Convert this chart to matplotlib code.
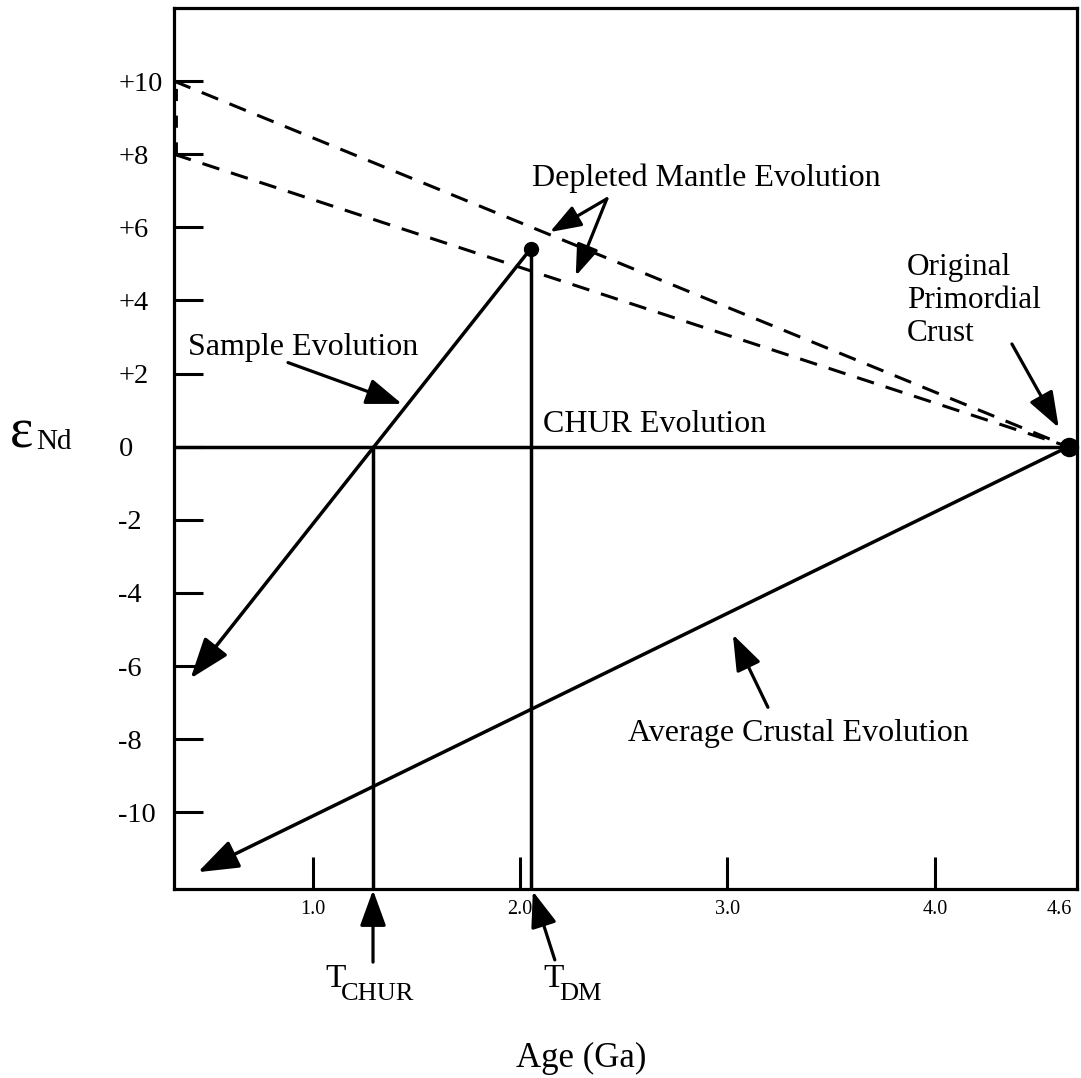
import matplotlib
matplotlib.use("Agg")
import matplotlib.pyplot as plt

plt.rcParams['font.family'] = ['Liberation Serif', 'DejaVu Serif']

# ---------------- data ----------------
x_limits = (0.33, 4.686)
y_limits = (-12.1, 12.0)
x_ticks = [1.0, 2.0, 3.0, 4.0, 4.6]
x_tick_labels = ["1.0", "2.0", "3.0", "4.0", "4.6"]
y_ticks = [10, 8, 6, 4, 2, 0, -2, -4, -6, -8, -10]
y_tick_labels = ["+10", "+8", "+6", "+4", "+2", "0", "-2", "-4", "-6", "-8", "-10"]

primordial = (4.645, 0.0)           # Original primordial crust
dm_upper_start = (0.33, 10.0)       # depleted mantle, upper bound
dm_lower_start = (0.33, 8.0)        # depleted mantle, lower bound
sample_point = (2.05, 5.41)         # sample on depleted mantle curve
sample_end = (0.41, -6.34)          # end of sample evolution arrow
crust_end = (0.445, -11.64)         # end of average crustal evolution arrow
t_chur = 1.29
t_dm = 2.05

# annotation arrows: (tail, tip)
dm_arrow1 = ((2.418, 6.78), (2.143, 5.87))
dm_arrow2 = ((2.418, 6.78), (2.268, 4.67))
sample_arrow = ((0.880, 2.30), (1.430, 1.17))
primordial_arrow = ((4.372, 2.81), (4.598, 0.52))
crust_arrow = ((3.195, -7.13), (3.026, -5.14))
tchur_arrow = ((1.29, -14.1), (1.29, -12.13))
tdm_arrow = ((2.167, -14.04), (2.061, -12.16))

# ---------------- figure ----------------
fig = plt.figure(figsize=(10.81, 10.78), dpi=100)
ax = fig.add_axes([174/1081, 1 - 889/1078, (1077 - 174)/1081, (889 - 8)/1078])
ax.set_xlim(*x_limits)
ax.set_ylim(*y_limits)
for s in ax.spines.values():
    s.set_linewidth(2.3)

ax.set_xticks(x_ticks)
ax.set_xticklabels(x_tick_labels, fontsize=14.5)
ax.set_yticks(y_ticks)
ax.set_yticklabels(y_tick_labels, fontsize=20.5)
ax.tick_params(axis='x', direction='in', length=23, width=2.2, pad=8)
ax.tick_params(axis='y', direction='in', length=21, width=2.2, pad=40)
for lab in ax.get_yticklabels():
    lab.set_horizontalalignment('left')
ax.xaxis.get_major_ticks()[-1].tick1line.set_visible(False)

LW = 2.5
dash = (0, (5.8, 4.0))

# CHUR evolution
ax.plot([x_limits[0], primordial[0]], [0, 0], color='black', lw=LW)
# Depleted mantle curves
ax.plot([dm_upper_start[0], primordial[0]], [dm_upper_start[1], primordial[1]],
        color='black', lw=2.2, linestyle=dash)
ax.plot([dm_lower_start[0], primordial[0]], [dm_lower_start[1], primordial[1]],
        color='black', lw=2.2, linestyle=dash)
ax.plot([x_limits[0] + 0.006, x_limits[0] + 0.006], [dm_lower_start[1], dm_upper_start[1]],
        color='black', lw=3.5, linestyle=(0, (2.5, 3)), clip_on=False)

# Vertical model-age lines
ax.plot([t_chur, t_chur], [0, y_limits[0]], color='black', lw=LW)
ax.plot([t_dm, t_dm], [sample_point[1], y_limits[0]], color='black', lw=LW)

def head(hl, hw):
    return dict(arrowstyle=f'-|>,head_length={hl},head_width={hw}', color='black',
                shrinkA=0, shrinkB=0, mutation_scale=20)

# Sample evolution line with arrow
ax.annotate("", xy=sample_end, xytext=sample_point,
            arrowprops=dict(head(1.25, 0.45), lw=LW), annotation_clip=False)
# Average crustal evolution
ax.annotate("", xy=crust_end, xytext=primordial,
            arrowprops=dict(head(1.25, 0.45), lw=LW), annotation_clip=False)

# Points
ax.plot(*sample_point, 'o', color='black', ms=10, clip_on=False, zorder=5)
ax.plot(*primordial, 'o', color='black', ms=13, clip_on=False, zorder=5)

# annotation arrows
for (tail, tip), (hl, hw) in [(dm_arrow1, (0.95, 0.34)), (dm_arrow2, (0.95, 0.34)),
                              (sample_arrow, (1.1, 0.4)), (primordial_arrow, (1.1, 0.4)),
                              (crust_arrow, (1.1, 0.4)), (tchur_arrow, (1.1, 0.4)),
                              (tdm_arrow, (1.1, 0.4))]:
    ax.annotate("", xy=tip, xytext=tail,
                arrowprops=dict(head(hl, hw), lw=2.3), annotation_clip=False)

# Texts
TF = 23
ax.text(2.90, 7.35, "Depleted Mantle Evolution", fontsize=TF, ha='center', va='center')
ax.text(0.952, 2.70, "Sample Evolution", fontsize=TF, ha='center', va='center')
ax.text(2.65, 0.60, "CHUR Evolution", fontsize=TF, ha='center', va='center')
ax.text(3.866, 5.30, "Original\nPrimordial\nCrust", fontsize=22.5, ha='left', va='top',
        linespacing=1.18)
ax.text(3.344, -7.84, "Average Crustal Evolution", fontsize=TF, ha='center', va='center')

# T labels below axis
fig.text(325/1081, 1 - 987/1078, "T", fontsize=24, ha='left', va='baseline')
fig.text(341/1081, 1 - 1000/1078, "CHUR", fontsize=19, ha='left', va='baseline')
fig.text(543/1081, 1 - 987/1078, "T", fontsize=24, ha='left', va='baseline')
fig.text(559/1081, 1 - 1000/1078, "DM", fontsize=19, ha='left', va='baseline')

# Axis labels
fig.text(581/1081, 1 - 1058/1078, "Age (Ga)", fontsize=25, ha='center', va='center')
fig.text(10/1081, 1 - 447/1078, "ε", fontsize=40, ha='left', va='baseline')
fig.text(36/1081, 1 - 449/1078, "Nd", fontsize=21, ha='left', va='baseline')

fig.savefig("out.png", dpi=100)
